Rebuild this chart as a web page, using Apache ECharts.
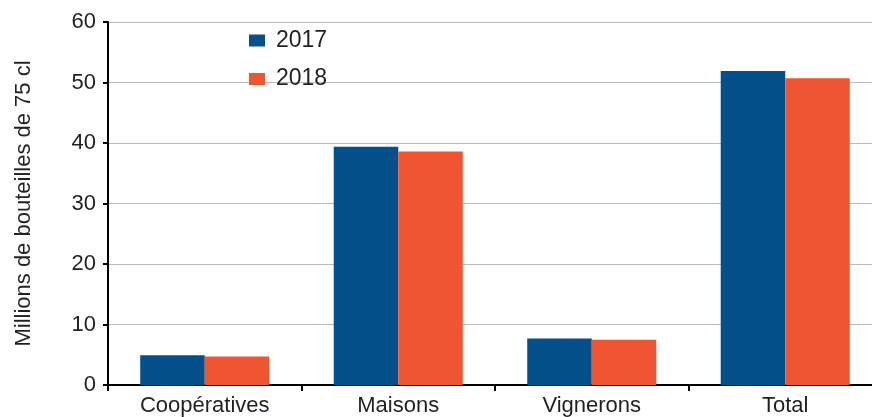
<!DOCTYPE html>
<html><head><meta charset="utf-8">
<script src="https://cdn.jsdelivr.net/npm/echarts@6/dist/echarts.min.js"></script>
<style>html,body{margin:0;padding:0;background:#fff;overflow:hidden}#c{width:883px;height:417px}</style>
</head><body><div id="c"></div>
<script>
var categories = ['Coopératives', 'Maisons', 'Vignerons', 'Total'];
var values2017 = [4.9, 39.4, 7.7, 51.9];
var values2018 = [4.7, 38.6, 7.5, 50.7];
var seriesNames = ['2017', '2018'];
var yAxisName = 'Millions de bouteilles de 75 cl';

var chart = echarts.init(document.getElementById('c'), null, {renderer: 'canvas'});
var font = 'Liberation Sans, Arial, sans-serif';
chart.setOption({
  animation: false,
  textStyle: {fontFamily: font},
  legend: {
    orient: 'vertical', left: 249, top: 29, padding: 0, icon: 'rect',
    itemWidth: 16, itemHeight: 12, itemGap: 15.5,
    textStyle: {fontSize: 23, lineHeight: 23, color: '#231f20', fontFamily: font, padding: [0, 0, 0, 6]},
    data: seriesNames
  },
  grid: {left: 108, top: 22, right: 1, bottom: 31, containLabel: false},
  xAxis: {
    type: 'category', data: categories,
    axisLine: {lineStyle: {color: '#000', width: 2}},
    axisTick: {show: true, length: 6, lineStyle: {color: '#000', width: 2}},
    axisLabel: {fontSize: 22, color: '#231f20', margin: 10, fontFamily: font},
    splitLine: {show: false}
  },
  yAxis: {
    type: 'value', min: 0, max: 60, interval: 10,
    name: yAxisName, nameLocation: 'middle', nameGap: 73, nameRotate: 90,
    nameTextStyle: {fontSize: 22, color: '#231f20', fontFamily: font},
    axisLine: {show: true, lineStyle: {color: '#000', width: 2}},
    axisTick: {show: true, length: 5, lineStyle: {color: '#000', width: 2}},
    axisLabel: {fontSize: 22, color: '#231f20', margin: 12, fontFamily: font},
    splitLine: {lineStyle: {color: '#bbbbbb', width: 1}}
  },
  series: [
    {name: seriesNames[0], type: 'bar', data: values2017, itemStyle: {color: '#03508b', borderRadius: 0}, barGap: '0%', barCategoryGap: '33.3%'},
    {name: seriesNames[1], type: 'bar', data: values2018, itemStyle: {color: '#f05532', borderRadius: 0}, barGap: '0%', barCategoryGap: '33.3%'}
  ]
});
</script></body></html>
